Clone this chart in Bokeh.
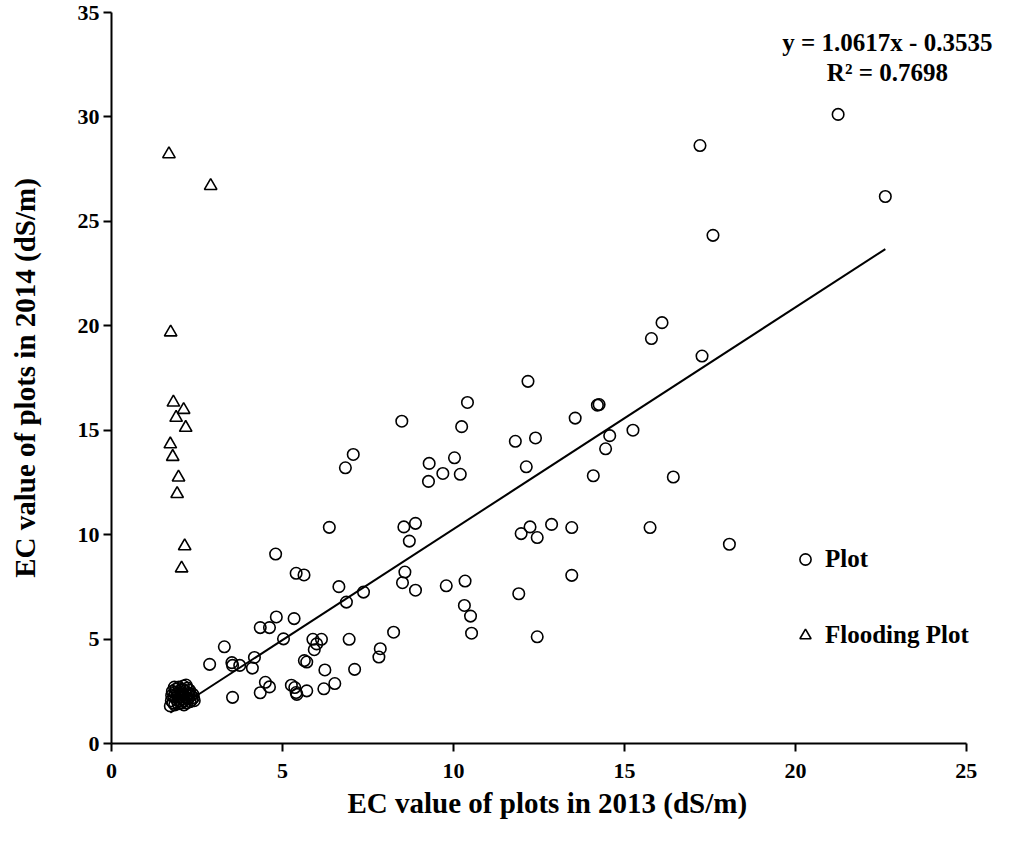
from bokeh.plotting import figure
from bokeh.models import Range1d, FixedTicker, Legend, LegendItem, Label, Title
from bokeh.embed import file_html
from bokeh.resources import INLINE

# ---- data: EC values (dS/m) ----
plot_x = [21.25, 17.21, 22.63, 17.59, 16.10, 15.79, 17.27, 14.21, 14.26, 14.57, 15.25, 14.45, 16.43, 15.75, 18.07,
          12.18, 10.41, 8.49, 10.24, 13.56, 11.81, 12.40, 7.07, 6.84, 9.29, 10.03, 9.69, 10.20, 9.27, 12.13, 14.09,
          6.37, 8.55, 8.89, 8.71, 11.98, 12.24, 12.45, 12.87, 13.46, 13.46, 11.91, 5.40, 5.63, 6.65, 7.37, 6.87,
          8.58, 8.51, 8.89, 9.79, 10.34, 10.32, 10.50, 10.53, 12.45, 5.34, 8.25, 6.95, 5.89, 6.14, 6.00, 5.93,
          7.86, 7.82, 5.64, 5.71, 6.24, 7.11, 4.82, 4.35, 4.62, 5.03, 3.30, 2.87, 3.52, 3.54, 3.75, 4.18, 4.12,
          4.50, 4.62, 4.35, 5.26, 5.36, 5.40, 5.42, 5.71, 6.21, 6.53, 3.54, 4.80]
plot_y = [30.12, 28.63, 26.19, 24.33, 20.15, 19.39, 18.55, 16.20, 16.23, 14.74, 15.00, 14.11, 12.76, 10.34, 9.54,
          17.34, 16.33, 15.43, 15.17, 15.58, 14.47, 14.63, 13.84, 13.20, 13.41, 13.68, 12.93, 12.89, 12.55, 13.25, 12.82,
          10.35, 10.37, 10.54, 9.69, 10.05, 10.37, 9.86, 10.49, 10.34, 8.05, 7.17, 8.15, 8.07, 7.51, 7.25, 6.77,
          8.21, 7.70, 7.34, 7.55, 7.78, 6.61, 6.10, 5.28, 5.11, 5.98, 5.33, 4.99, 4.99, 4.99, 4.77, 4.49,
          4.54, 4.14, 3.97, 3.90, 3.52, 3.55, 6.06, 5.55, 5.55, 5.01, 4.63, 3.79, 3.87, 3.74, 3.74, 4.12, 3.61,
          2.93, 2.71, 2.43, 2.79, 2.68, 2.44, 2.35, 2.52, 2.62, 2.87, 2.21, 9.07]

# dense cluster of low-salinity plots
cluster_x = [1.72, 1.75, 1.78, 1.80, 1.82, 1.85, 1.88, 1.90, 1.92, 1.95, 1.97, 2.00, 2.02, 2.05, 2.07, 2.10,
             2.12, 2.15, 2.17, 2.20, 2.22, 2.25, 2.27, 2.30, 2.32, 2.35, 2.40, 2.42, 1.76, 1.86, 1.98, 2.08,
             2.18, 2.28, 2.12, 1.94, 2.03, 2.24, 1.84, 2.38]
cluster_y = [1.80, 2.05, 2.50, 1.95, 2.25, 1.85, 2.60, 2.10, 2.40, 1.90, 2.70, 2.20, 2.55, 1.95, 2.35, 2.75,
             2.05, 2.50, 2.25, 1.95, 2.65, 2.15, 2.40, 2.00, 2.30, 2.10, 2.20, 2.05, 2.30, 2.45, 2.05, 2.60,
             2.80, 2.55, 1.85, 2.28, 2.45, 2.32, 2.70, 2.35]

flood_x = [1.68, 2.90, 1.73, 1.81, 2.11, 1.89, 2.17, 1.72, 1.79, 1.96, 1.92, 2.14, 2.05]
flood_y = [28.22, 26.70, 19.69, 16.33, 15.98, 15.60, 15.12, 14.33, 13.73, 12.74, 11.95, 9.45, 8.39]

slope = 1.0617
intercept = -0.3535
r2 = 0.7698

x_ticks = [0, 5, 10, 15, 20, 25]
y_ticks = [0, 5, 10, 15, 20, 25, 30, 35]

x_title = "EC value of plots in 2013 (dS/m)"
y_title = "EC value of plots in 2014 (dS/m)"

FONT = "Liberation Serif"

all_x = plot_x + cluster_x
all_y = plot_y + cluster_y

# plotting area runs a little past x = 25 so that the legend and equation are not clipped;
# the axis line itself stops at 25 (bounds)
p = figure(width=998, height=830, x_range=Range1d(0, 25.94), y_range=Range1d(0, 35),
           output_backend="svg", toolbar_location=None,
           min_border_left=111, min_border_right=0, min_border_top=12, min_border_bottom=87)
p.outline_line_color = None
p.xgrid.visible = False
p.ygrid.visible = False

for ax, ticks in ((p.xaxis[0], x_ticks), (p.yaxis[0], y_ticks)):
    ax.ticker = FixedTicker(ticks=ticks)
    ax.bounds = (ticks[0], ticks[-1])
    ax.minor_tick_line_color = None
    ax.major_tick_in = 0
    ax.major_tick_out = 8
    ax.axis_line_width = 2
    ax.major_tick_line_width = 2
    ax.axis_line_color = "black"
    ax.major_tick_line_color = "black"
    ax.major_label_text_font = FONT
    ax.major_label_text_font_style = "bold"
    ax.major_label_text_font_size = "22px"
    ax.major_label_text_color = "black"
    ax.axis_label_text_font = FONT
    ax.axis_label_text_font_style = "bold"
    ax.axis_label_text_font_size = "29px"
    ax.axis_label_text_color = "black"

p.yaxis.axis_label = y_title
p.xaxis.major_label_standoff = 12
p.yaxis.major_label_standoff = 4
p.yaxis.axis_label_standoff = 34

# x-axis title centred under the 0..25 axis line (not under the wider frame)
p.add_layout(Title(text=x_title, align="left", offset=236, standoff=9,
                   text_font=FONT, text_font_style="bold", text_font_size="29px",
                   text_color="black"), "below")

# trend line
x0, x1 = min(all_x), max(all_x)
p.line([x0, x1], [slope * x0 + intercept, slope * x1 + intercept], line_color="black", line_width=2)

r_plot = p.scatter(all_x, all_y, marker="circle", size=11.5, fill_color=None,
                   line_color="black", line_width=1.6)
r_flood = p.scatter(flood_x, flood_y, marker="triangle", size=12.5, fill_color=None,
                    line_color="black", line_width=1.6)

legend = Legend(items=[LegendItem(label="Plot", renderers=[r_plot]),
                       LegendItem(label="Flooding Plot", renderers=[r_flood])],
                location=(680, 94), orientation="vertical",
                glyph_width=28, glyph_height=28, label_height=28, spacing=48,
                label_standoff=6, padding=0, margin=0,
                border_line_color=None, background_fill_alpha=0,
                label_text_font=FONT, label_text_font_style="bold",
                label_text_font_size="25px", label_text_color="black")
p.add_layout(legend)

eq1 = Label(x=22.69, y=33.56, text="y = %.4fx - %.4f" % (slope, -intercept),
            text_align="center", text_baseline="middle",
            text_font=FONT, text_font_style="bold", text_font_size="25px", text_color="black")
eq2 = Label(x=22.69, y=32.13, text="R² = %.4f" % r2,
            text_align="center", text_baseline="middle",
            text_font=FONT, text_font_style="bold", text_font_size="25px", text_color="black")
p.add_layout(eq1)
p.add_layout(eq2)

open("out.html", "w").write(file_html(p, INLINE))
